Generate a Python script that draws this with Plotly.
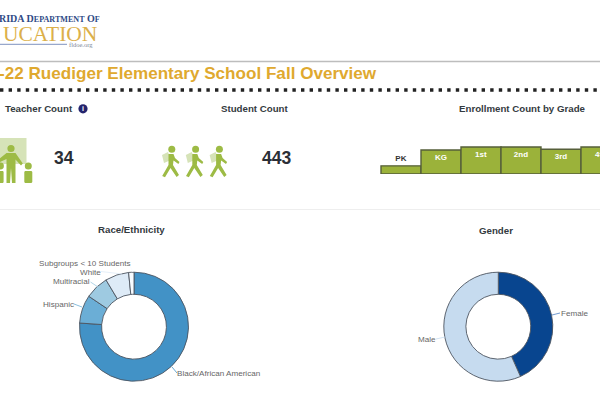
import plotly.graph_objects as go

W, H = 600, 400

# ---- data ----
grades = ["PK", "KG", "1st", "2nd", "3rd", "4th", "5th"]
enrollment = [22, 65, 73, 73, 67, 73, 70]
race_labels = ["Black/African American", "Hispanic", "Multiracial", "White", "Subgroups < 10 Students"]
race_values = [337, 37, 31, 31, 7]
gender_labels = ["Female", "Male"]
gender_values = [192, 251]
teacher_count = "34"
student_count = "443"

# ---- styles ----
race_colors = ["#4292c6", "#6baed6", "#9ecae1", "#deebf7", "#f7fbff"]
gender_colors = ["#08458f", "#c6dbef"]
GREEN = "#9bb23a"
ICON = "#9dbb45"
ICON_LIGHT = "#d6e3b8"
SANS = "Liberation Sans"
SERIF = "Liberation Serif"
DARK = "#343a40"


def X(p):
    return p / W


def Y(p):
    return 1 - p / H


def dom_pie(cx, cy, r):
    return dict(x=[X(cx - r), X(cx + r)], y=[Y(cy + r), Y(cy - r)])


fig = go.Figure()

# Enrollment bars: 40 px per category, PK centred on x=401, baseline y=174
fig.add_trace(go.Bar(
    x=grades, y=enrollment, width=1, xaxis="x", yaxis="y",
    marker=dict(color=GREEN, line=dict(color="#565f3a", width=1.4)),
    text=[f"<b>{g}</b>" for g in grades],
    textposition=["outside"] + ["inside"] * (len(grades) - 1),
    insidetextanchor="end",
    textangle=0,
    outsidetextfont=dict(family=SANS, size=8, color="#333333"),
    insidetextfont=dict(family=SANS, size=8, color="#ffffff"),
    constraintext="none",
    cliponaxis=True,
    hoverinfo="skip",
    showlegend=False,
))

fig.add_trace(go.Pie(
    labels=race_labels, values=race_values, hole=0.595, sort=False,
    direction="clockwise", rotation=0, textinfo="none",
    marker=dict(colors=race_colors, line=dict(color="#4d5560", width=0.9)),
    domain=dom_pie(134, 326.7, 54.5), showlegend=False,
))
fig.add_trace(go.Pie(
    labels=gender_labels, values=gender_values, hole=0.595, sort=False,
    direction="clockwise", rotation=0, textinfo="none",
    marker=dict(colors=gender_colors, line=dict(color="#4d5560", width=0.9)),
    domain=dom_pie(498.3, 326.7, 54.5), showlegend=False,
))

shapes = []


def line(x0, y0, x1, y1, color, width=1, dash=None, cap=None):
    shapes.append(dict(type="line", xref="paper", yref="paper",
                       x0=X(x0), y0=Y(y0), x1=X(x1), y1=Y(y1),
                       line=dict(color=color, width=width, dash=dash or "solid")))


def poly(points, fill=None, color=None, width=0, close=True):
    d = "M" + " L".join(f"{X(a):.5f},{Y(b):.5f}" for a, b in points) + (" Z" if close else "")
    shapes.append(dict(type="path", xref="paper", yref="paper", path=d,
                       fillcolor=fill if fill else "rgba(0,0,0,0)",
                       line=dict(color=color if color else "rgba(0,0,0,0)", width=width)))


def circle(cx, cy, r, fill):
    shapes.append(dict(type="circle", xref="paper", yref="paper",
                       x0=X(cx - r), x1=X(cx + r), y0=Y(cy - r), y1=Y(cy + r),
                       fillcolor=fill, line=dict(width=0)))


# Rules
line(0, 61.5, 600, 61.5, "#bdbdbd", 1.5)
line(0, 90, 600, 90, "#222222", 3.4, dash="3.4px 5.2px")
line(0, 209.5, 600, 209.5, "#eeeeee", 1)
# Logo rule
line(0, 44.3, 67, 44.3, "#6f86b8", 0.9)

# Teacher icon
poly([(-2, 138), (26.5, 138), (26.5, 164), (-2, 164)], fill=ICON_LIGHT)
circle(11, 148.5, 3.6, ICON)
poly([(6.5, 153), (15.5, 153), (22.8, 163.5), (21, 165.5), (15.5, 159.5), (15.5, 183),
      (12, 183), (11, 168), (10, 183), (6.5, 183), (6.5, 159), (-2, 163), (-2, 160)], fill=ICON)
circle(28.3, 166, 3.5, ICON)
poly([(25, 171), (31.5, 171), (32.3, 172), (32.3, 182), (31.5, 183), (25, 183), (24.3, 182), (24.3, 172)], fill=ICON)
circle(0.5, 166, 3.4, ICON)
poly([(-3, 171), (3, 171), (3.6, 172), (3.6, 182), (3, 183), (-3, 183)], fill=ICON)

# Student icons
for dx in (0, 23.8, 47.6):
    poly([(162 + dx, 155), (168 + dx, 152), (171 + dx, 160), (164 + dx, 163)], fill=ICON_LIGHT)
    circle(171.8 + dx, 149.2, 3.5, ICON)
    poly([(168.5 + dx, 154), (173.5 + dx, 154), (175 + dx, 158), (179.5 + dx, 162), (178.4 + dx, 164),
          (173.5 + dx, 160.5), (173 + dx, 165), (179 + dx, 175), (176.6 + dx, 177), (170.5 + dx, 168),
          (165 + dx, 177.3), (162.2 + dx, 176), (168.5 + dx, 165)], fill=ICON)

# Info badge
circle(83, 108.8, 4.6, "#24246e")

# Leaders
line(98, 287, 90.5, 282, "#9ecae1", 0.8)
line(82, 307, 74, 304, "#6baed6", 0.8)
line(101, 271.5, 122, 274, "#deebf7", 0.8)
line(129, 264, 133, 272, "#f7fbff", 0.8)
line(172, 367, 177, 373, "#4292c6", 0.8)
line(552, 315, 560, 313, "#4f82c4", 0.8)
line(436, 339, 445, 337, "#c6dbef", 0.8)

ann = []


def text(x, y, s, size, color=DARK, anchor="center", bold=False, family=SANS):
    ann.append(dict(xref="paper", yref="paper", x=X(x), y=Y(y), text=f"<b>{s}</b>" if bold else s,
                    showarrow=False, xanchor=anchor, yanchor="middle",
                    font=dict(family=family, size=size, color=color), borderpad=0, borderwidth=0,
                    align=anchor if anchor != "center" else "center"))


# Header
small = '<span style="font-size:8.1px">'
text(-1, 19, f"RIDA D{small}EPARTMENT</span> O{small}F</span>", 10, "#2f4a86", "left", True, SERIF)
text(3, 33.5, "UCATION", 21.5, "#dcb04a", "left", False, SERIF)
text(69, 44.5, "fldoe.org", 6.5, "#7c8798", "left", False, SERIF)
text(-1, 73, "-22 Ruediger Elementary School Fall Overview", 17.1, "#dfa92f", "left", True)

# Section titles
text(5, 108.7, "Teacher Count", 9.7, DARK, "left", True)
text(83, 108.8, "i", 7, "#ffffff", "center", True)
text(254, 109, "Student Count", 9.7, DARK, "center", True)
text(522, 109, "Enrollment Count by Grade", 9.7, DARK, "center", True)
text(131.5, 230, "Race/Ethnicity", 9.7, DARK, "center", True)
text(496, 230.5, "Gender", 9.7, DARK, "center", True)

# KPI values
text(64, 158, teacher_count, 17.5, "#2b2f36", "center", True)
text(276.5, 158, student_count, 17.5, "#2b2f36", "center", True)

# Pie labels
GR = "#666666"
text(131, 263, race_labels[4], 8.1, GR, "right")
text(100.5, 272, race_labels[3], 8.1, GR, "right")
text(90, 281.3, race_labels[2], 8.1, GR, "right")
text(74, 304, race_labels[1], 8.1, GR, "right")
text(177, 373, race_labels[0], 8.1, GR, "left")
text(560.5, 313, gender_labels[0], 8.1, GR, "left")
text(436, 339, gender_labels[1], 8.1, GR, "right")

px_per_unit = 40
pk_center = 401
value_per_px = 2.7
fig.update_layout(
    width=W, height=H, margin=dict(l=0, r=0, t=0, b=0),
    paper_bgcolor="#ffffff", plot_bgcolor="rgba(0,0,0,0)",
    xaxis=dict(domain=[0, 1], type="category", categoryorder="array", categoryarray=grades,
               range=[-pk_center / px_per_unit, (W - pk_center) / px_per_unit],
               showgrid=False, zeroline=False, showticklabels=False, ticks="",
               showline=False, fixedrange=True),
    yaxis=dict(domain=[Y(174), Y(130)], range=[0, 44 * value_per_px],
               showgrid=False, zeroline=False, showticklabels=False, ticks="",
               showline=False, fixedrange=True),
    shapes=shapes, annotations=ann, showlegend=False,
    font=dict(family=SANS),
)

fig.write_html("out.html", config=dict(displayModeBar=False),
               post_script="document.body.style.margin='0';document.body.style.overflow='hidden';")
